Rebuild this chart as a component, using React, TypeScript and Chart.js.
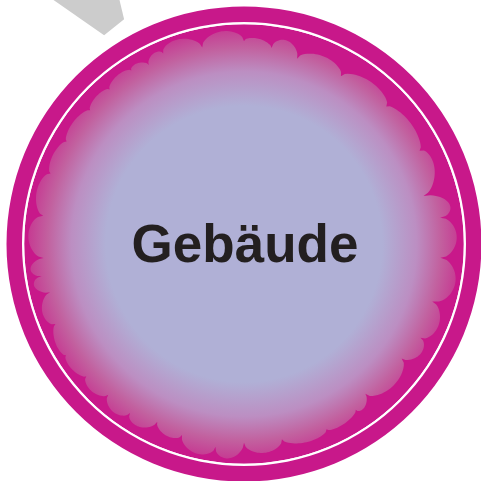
import React, { useEffect, useRef } from "react";
import { Chart, registerables } from "chart.js";

Chart.register(...registerables);

// Ring structure (outer magenta band, thin white line, inner disc)
const ringLabels = ["Rand", "Linie", "Fläche"];
const ringValues = [1, 1, 1];
const ringWeights = [15.5, 2.2, 220];
const ringColors = ["#C8188A", "#FFFFFF", "#C8188A"];

// Cloud outline: cusp angles (deg, clockwise from east), cusp radii and lobe peak radii
const cuspAngles = [-172, -160, -150, -139, -131, -123, -118, -113, -102, -90, -82, -74, -60, -44, -28, -15, -7.6, 4, 17, 28, 36, 51, 56, 66, 79, 90, 98, 108, 116, 124, 132, 140, 148, 157, 166, 171, 176];
const cuspRadii = [203, 206, 205, 204, 205, 207, 203, 207, 201, 203, 198, 193, 194, 198, 199, 186, 198, 197, 197, 200, 195, 193, 200, 203, 199, 199, 205, 201, 198, 204, 203, 206, 210, 205, 200, 205, 201];
const lobePeaks = [214, 211, 210, 209, 211, 210, 211, 215, 214, 206, 208, 204, 206, 206, 205, 209, 213, 215, 211, 208, 206, 203, 206, 208, 210, 215, 215, 207, 211, 213, 212, 213, 213, 213, 214, 215, 216];

const centerLabel = "Gebäude";

const cloudPlugin = {
  id: "cloudPlugin",
  afterDatasetsDraw(chart: any) {
    const ctx = chart.ctx;
    const inner = chart.getDatasetMeta(2).data[0] as any;
    const cx = inner.x;
    const cy = inner.y;
    const k = inner.outerRadius / 220;
    ctx.save();
    // gray connector
    ctx.fillStyle = "#CCCCCC";
    ctx.beginPath();
    ctx.moveTo(cx - 199 * k, cy - 250 * k);
    ctx.lineTo(cx - 126 * k, cy - 250 * k);
    ctx.lineTo(cx - 120 * k, cy - 225 * k);
    ctx.lineTo(cx - 140 * k, cy - 209 * k);
    ctx.closePath();
    ctx.fill();

    // cloud
    const n = cuspAngles.length;
    ctx.beginPath();
    for (let i = 0; i < n; i++) {
      const a0 = cuspAngles[i];
      let a1 = cuspAngles[(i + 1) % n];
      if (a1 <= a0) a1 += 360;
      const r0 = cuspRadii[i];
      const r1 = cuspRadii[(i + 1) % n];
      const peak = lobePeaks[i];
      const steps = 24;
      for (let s = 0; s <= steps; s++) {
        const t = s / steps;
        const a = ((a0 + (a1 - a0) * t) * Math.PI) / 180;
        const base = r0 + (r1 - r0) * t;
        const amp = peak - (r0 + r1) / 2;
        const r = (base + amp * Math.pow(Math.sin(Math.PI * t), 0.5)) * k;
        const x = cx + r * Math.cos(a);
        const y = cy + r * Math.sin(a);
        if (i === 0 && s === 0) ctx.moveTo(x, y);
        else ctx.lineTo(x, y);
      }
    }
    ctx.closePath();
    const g = ctx.createRadialGradient(cx, cy, 0, cx, cy, 216 * k);
    g.addColorStop(0, "#B0B0D6");
    g.addColorStop(0.64, "#B0B0D6");
    g.addColorStop(0.8, "#BC8EC2");
    g.addColorStop(0.91, "#C2619F");
    g.addColorStop(1, "#C63A92");
    ctx.fillStyle = g;
    ctx.fill();

    // label
    ctx.fillStyle = "#231F20";
    ctx.font = "bold 53px 'Liberation Sans', Arial, sans-serif";
    ctx.textAlign = "center";
    ctx.textBaseline = "alphabetic";
    ctx.fillText(centerLabel, cx + 1, cy + 18);
    ctx.restore();
  },
};

export default function App() {
  const ref = useRef<HTMLCanvasElement | null>(null);
  useEffect(() => {
    if (!ref.current) return;
    const chart = new Chart(ref.current, {
      type: "doughnut",
      data: {
        labels: ringLabels,
        datasets: ringValues.map((v, i) => ({
          label: ringLabels[i],
          data: [v],
          backgroundColor: [ringColors[i]],
          borderWidth: 0,
          weight: ringWeights[i],
        })),
      },
      options: {
        responsive: false,
        animation: false,
        cutout: 0,
        layout: { padding: { left: 6.5, top: 6.5, right: 8.5, bottom: 8.5 } },
        plugins: { legend: { display: false }, tooltip: { enabled: false } },
        events: [],
      } as any,
      plugins: [cloudPlugin],
    });
    return () => chart.destroy();
  }, []);
  return (
    <div style={{ position: "fixed", left: 0, top: 0, width: 481, height: 481, overflow: "hidden", background: "#fff" }}>
      <canvas ref={ref} width={490} height={490} style={{ display: "block", width: 490, height: 490 }} />
    </div>
  );
}
